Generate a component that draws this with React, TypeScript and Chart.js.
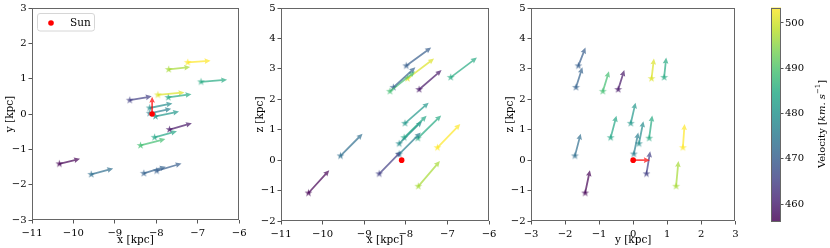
import React, { useEffect, useRef } from 'react';
import { Chart, registerables } from 'chart.js';
Chart.register(...registerables);

// ---------------- data ----------------
// star positions (kpc)
const STAR_X = [-7.24, -7.70, -6.92, -7.96, -7.71, -8.64, -8.16, -8.16, -8.02, -7.68, -8.04, -8.38, -10.34, -9.57, -8.30, -7.99];
const STAR_Y = [1.46, 1.26, 0.91, 0.54, 0.47, 0.39, 0.17, 0.02, -0.07, -0.44, -0.66, -0.89, -1.41, -1.71, -1.68, -1.61];
const STAR_Z = [0.41, -0.86, 2.72, 2.68, 0.72, -0.45, 0.54, 0.20, 1.21, 2.32, 0.74, 2.26, -1.08, 0.14, 2.39, 3.10];
// star velocity components (km/s)
const STAR_VX = [275, 260, 315, 320, 280, 265, 275, 260, 285, 270, 270, 300, 250, 265, 265, 300];
const STAR_VY = [25, 35, 30, 35, 45, 55, 65, 65, 70, 90, 85, 90, 70, 85, 95, 105];
const STAR_VZ = [390, 415, 325, 330, 375, 370, 370, 355, 340, 320, 360, 330, 375, 365, 330, 300];
// total velocity used for colour (km/s)
const STAR_SPEED = [503.4, 497, 485, 501, 485, 465, 479, 476, 481, 459, 484, 489, 456.3, 473, 471, 470];
// Sun
const SUN_X = -8.1;
const SUN_Y = 0;
const SUN_Z = 0;
const SUN_VX = 0;
const SUN_VY = 245;
const SUN_VZ = 0;
// arrow scale: kpc per km/s
const ARROW_SCALE = 1 / 500;

// ticks
const TICKS_X = [-11, -10, -9, -8, -7, -6];
const TICKS_Y_XY = [-3, -2, -1, 0, 1, 2, 3];
const TICKS_Z = [-2, -1, 0, 1, 2, 3, 4, 5];
const TICKS_Y_YZ = [-3, -2, -1, 0, 1, 2, 3];
const TICKS_CBAR = [460, 470, 480, 490, 500];

// ---------------- helpers ----------------
const FONT = "'DejaVu Serif', serif";
const VIRIDIS = ['#440154', '#482475', '#414487', '#355f8d', '#2a788e', '#21918c', '#22a884', '#44bf70', '#7ad151', '#bddf26', '#fde725'];
function hex(h: string) { return [parseInt(h.slice(1, 3), 16), parseInt(h.slice(3, 5), 16), parseInt(h.slice(5, 7), 16)]; }
function viridis(t: number): number[] {
  t = Math.max(0, Math.min(1, t));
  const p = t * (VIRIDIS.length - 1);
  const i = Math.min(VIRIDIS.length - 2, Math.floor(p));
  const f = p - i;
  const a = hex(VIRIDIS[i]), b = hex(VIRIDIS[i + 1]);
  return [0, 1, 2].map(k => Math.round(a[k] + (b[k] - a[k]) * f));
}
const SPEED_MIN = Math.min(...STAR_SPEED);
const SPEED_MAX = Math.max(...STAR_SPEED);
function speedColor(v: number, alpha: number) {
  const c = viridis((v - SPEED_MIN) / (SPEED_MAX - SPEED_MIN));
  return `rgba(${c[0]},${c[1]},${c[2]},${alpha})`;
}
const fmt = (v: number) => (v < 0 ? '\u2212' + Math.abs(v) : String(v));

const POS: Record<string, number[]> = { x: STAR_X, y: STAR_Y, z: STAR_Z };
const VEL: Record<string, number[]> = { x: STAR_VX, y: STAR_VY, z: STAR_VZ };
const SUN_P: Record<string, number> = { x: SUN_X, y: SUN_Y, z: SUN_Z };
const SUN_V: Record<string, number> = { x: SUN_VX, y: SUN_VY, z: SUN_VZ };

function starImage(color: string, R: number) {
  const size = Math.ceil(R * 2 + 2);
  const c = document.createElement('canvas');
  c.width = size; c.height = size;
  const g = c.getContext('2d')!;
  g.translate(size / 2, size / 2);
  g.beginPath();
  for (let k = 0; k < 10; k++) {
    const r = k % 2 === 0 ? R : R * 0.382;
    const a = -Math.PI / 2 + (k * Math.PI) / 5;
    g.lineTo(r * Math.cos(a), r * Math.sin(a));
  }
  g.closePath();
  g.fillStyle = color;
  g.fill();
  return c;
}

function drawArrow(ctx: CanvasRenderingContext2D, x0: number, y0: number, x1: number, y1: number, color: string) {
  const dx = x1 - x0, dy = y1 - y0;
  const L = Math.hypot(dx, dy);
  if (L < 1) return;
  const ux = dx / L, uy = dy / L;
  const nx = -uy, ny = ux;
  const w = 1.8, hw = 5.6, hl = 6.0, hal = 5.4;
  const pts = [
    [x0 + nx * w / 2, y0 + ny * w / 2],
    [x1 - ux * hal + nx * w / 2, y1 - uy * hal + ny * w / 2],
    [x1 - ux * hl + nx * hw / 2, y1 - uy * hl + ny * hw / 2],
    [x1, y1],
    [x1 - ux * hl - nx * hw / 2, y1 - uy * hl - ny * hw / 2],
    [x1 - ux * hal - nx * w / 2, y1 - uy * hal - ny * w / 2],
    [x0 - nx * w / 2, y0 - ny * w / 2],
  ];
  ctx.beginPath();
  pts.forEach((p, i) => (i ? ctx.lineTo(p[0], p[1]) : ctx.moveTo(p[0], p[1])));
  ctx.closePath();
  ctx.fillStyle = color;
  ctx.fill();
}

type Panel = {
  h: string; v: string;
  hMin: number; hMax: number; vMin: number; vMax: number;
  hTicks: number[]; vTicks: number[];
  hTitle: string; vTitle: string;
  left: number; width: number;
  area: { l: number; t: number; r: number; b: number };
  legend: boolean;
};

const H = 248;
const PANELS: Panel[] = [
  { h: 'x', v: 'y', hMin: -11, hMax: -6, vMin: -3, vMax: 3, hTicks: TICKS_X, vTicks: TICKS_Y_XY, hTitle: 'x [kpc]', vTitle: 'y [kpc]', left: 0, width: 250, area: { l: 32, t: 6, r: 240, b: 220 }, legend: true },
  { h: 'x', v: 'z', hMin: -11, hMax: -6, vMin: -2, vMax: 5, hTicks: TICKS_X, vTicks: TICKS_Z, hTitle: 'x [kpc]', vTitle: 'z [kpc]', left: 250, width: 250, area: { l: 31, t: 6, r: 239, b: 221 }, legend: false },
  { h: 'y', v: 'z', hMin: -3, hMax: 3, vMin: -2, vMax: 5, hTicks: TICKS_Y_YZ, vTicks: TICKS_Z, hTitle: 'y [kpc]', vTitle: 'z [kpc]', left: 500, width: 242, area: { l: 31, t: 6, r: 238, b: 221 }, legend: false },
];
const CBAR = { left: 742, width: 88, area: { l: 29, t: 6, r: 39, b: 221 } };

const tickFont = { family: FONT, size: 10 };
const titleFont = { family: FONT, size: 10.5 };

function framePlugin() {
  return {
    id: 'frame',
    afterDraw(chart: any) {
      const { left, top, right, bottom } = chart.chartArea;
      const ctx = chart.ctx;
      ctx.save();
      ctx.strokeStyle = '#666';
      ctx.lineWidth = 1;
      ctx.strokeRect(Math.round(left) + 0.5, Math.round(top) + 0.5, Math.round(right - left) - 1, Math.round(bottom - top) - 1);
      ctx.restore();
    },
  };
}

function quiverPlugin(p: Panel) {
  return {
    id: 'quiver',
    afterDatasetDraw(chart: any, args: any) {
      if (args.index !== 1) return;
      const xs = chart.scales.x, ys = chart.scales.y;
      const ctx: CanvasRenderingContext2D = chart.ctx;
      const a = chart.chartArea;
      ctx.save();
      ctx.beginPath();
      ctx.rect(a.left, a.top, a.right - a.left, a.bottom - a.top);
      ctx.clip();
      const hp = POS[p.h], vp = POS[p.v], hv = VEL[p.h], vv = VEL[p.v];
      for (let i = 0; i < hp.length; i++) {
        const x0 = xs.getPixelForValue(hp[i]);
        const y0 = ys.getPixelForValue(vp[i]);
        const x1 = xs.getPixelForValue(hp[i] + hv[i] * ARROW_SCALE);
        const y1 = ys.getPixelForValue(vp[i] + vv[i] * ARROW_SCALE);
        drawArrow(ctx, x0, y0, x1, y1, speedColor(STAR_SPEED[i], 0.7));
      }
      const sx0 = xs.getPixelForValue(SUN_P[p.h]);
      const sy0 = ys.getPixelForValue(SUN_P[p.v]);
      const sx1 = xs.getPixelForValue(SUN_P[p.h] + SUN_V[p.h] * ARROW_SCALE);
      const sy1 = ys.getPixelForValue(SUN_P[p.v] + SUN_V[p.v] * ARROW_SCALE);
      drawArrow(ctx, sx0, sy0, sx1, sy1, 'rgba(255,0,0,0.7)');
      ctx.restore();
    },
  };
}

function legendPlugin(p: Panel) {
  return {
    id: 'sunLegend',
    afterDraw(chart: any) {
      if (!p.legend) return;
      const a = chart.chartArea;
      const ctx: CanvasRenderingContext2D = chart.ctx;
      const ds = chart.data.datasets[0];
      const x = a.left + 5.5, y = a.top + 5.5, w = 57, h = 17.5, r = 2.5;
      ctx.save();
      ctx.beginPath();
      ctx.moveTo(x + r, y);
      ctx.arcTo(x + w, y, x + w, y + h, r);
      ctx.arcTo(x + w, y + h, x, y + h, r);
      ctx.arcTo(x, y + h, x, y, r);
      ctx.arcTo(x, y, x + w, y, r);
      ctx.closePath();
      ctx.fillStyle = 'rgba(255,255,255,0.8)';
      ctx.fill();
      ctx.strokeStyle = '#d6d6d6';
      ctx.lineWidth = 1;
      ctx.stroke();
      ctx.beginPath();
      ctx.arc(a.left + 19, a.top + 15, 2.8, 0, Math.PI * 2);
      ctx.fillStyle = ds.backgroundColor;
      ctx.fill();
      ctx.fillStyle = '#000';
      ctx.font = `10.5px ${FONT}`;
      ctx.textBaseline = 'middle';
      ctx.textAlign = 'left';
      ctx.fillText(ds.label, a.left + 38, a.top + 15);
      ctx.restore();
    },
  };
}

function makePanel(canvas: HTMLCanvasElement, p: Panel) {
  const starImgs = STAR_SPEED.map(v => starImage(speedColor(v, 0.75), 4.1));
  const starData = POS[p.h].map((hv, i) => ({ x: hv, y: POS[p.v][i] }));
  return new Chart(canvas, {
    type: 'scatter',
    data: {
      datasets: [
        { label: 'Sun', data: [{ x: SUN_P[p.h], y: SUN_P[p.v] }], backgroundColor: '#ff0000', borderWidth: 0, pointRadius: 2.8 },
        { label: 'stars', data: starData, pointStyle: ((ctx: any) => starImgs[ctx.dataIndex]) as any, pointRadius: 4 },
      ],
    },
    options: {
      responsive: false,
      animation: false,
      events: [],
      layout: { padding: { left: 0, top: p.area.t, right: p.width - p.area.r, bottom: 0 } },
      plugins: { legend: { display: false }, tooltip: { enabled: false } },
      scales: {
        x: {
          type: 'linear', position: 'bottom', min: p.hMin, max: p.hMax,
          afterBuildTicks: (s: any) => { s.ticks = p.hTicks.map(v => ({ value: v })); },
          afterFit: (s: any) => { s.height = H - p.area.b; },
          ticks: { font: tickFont, color: '#000', padding: 3.5, maxRotation: 0, autoSkip: false, callback: (v: any) => fmt(Number(v)) },
          grid: { drawOnChartArea: false, drawTicks: true, tickLength: 3.5, color: '#555' },
          border: { display: false },
          title: { display: true, text: p.hTitle, font: titleFont, color: '#000', padding: { top: 0, bottom: 1 } },
        },
        y: {
          type: 'linear', position: 'left', min: p.vMin, max: p.vMax,
          afterBuildTicks: (s: any) => { s.ticks = p.vTicks.map(v => ({ value: v })); },
          afterFit: (s: any) => { s.width = p.area.l; },
          ticks: { font: tickFont, color: '#000', padding: 2, autoSkip: false, callback: (v: any) => fmt(Number(v)) },
          grid: { drawOnChartArea: false, drawTicks: true, tickLength: 3.5, color: '#555' },
          border: { display: false },
          title: { display: true, text: p.vTitle, font: titleFont, color: '#000', padding: { top: 4, bottom: 0 } },
        },
      },
    } as any,
    plugins: [quiverPlugin(p), framePlugin(), legendPlugin(p)],
  });
}

function makeColorbar(canvas: HTMLCanvasElement) {
  const gradPlugin = {
    id: 'cbarGrad',
    beforeDatasetsDraw(chart: any) {
      const a = chart.chartArea;
      const ys = chart.scales.y;
      const ctx: CanvasRenderingContext2D = chart.ctx;
      const yb = ys.getPixelForValue(SPEED_MIN), yt = ys.getPixelForValue(SPEED_MAX);
      const g = ctx.createLinearGradient(0, yb, 0, yt);
      for (let k = 0; k <= 20; k++) {
        const t = k / 20;
        const c = viridis(t);
        g.addColorStop(t, `rgba(${c[0]},${c[1]},${c[2]},0.82)`);
      }
      ctx.save();
      ctx.fillStyle = g;
      ctx.fillRect(a.left, a.top, a.right - a.left, a.bottom - a.top);
      ctx.restore();
    },
  };
  const labelPlugin = {
    id: 'cbarLabel',
    afterDraw(chart: any) {
      const ctx: CanvasRenderingContext2D = chart.ctx;
      const parts = [
        { t: 'Velocity ', f: `10px ${FONT}`, dy: 0 },
        { t: '[', f: `10px ${FONT}`, dy: 0 },
        { t: 'km. s', f: `italic 10px ${FONT}`, dy: 0 },
        { t: '\u22121', f: `7px ${FONT}`, dy: -4 },
        { t: ']', f: `10px ${FONT}`, dy: 0 },
      ];
      ctx.save();
      let total = 0;
      const widths = parts.map(p => { ctx.font = p.f; const w = ctx.measureText(p.t).width; total += w; return w; });
      ctx.translate(80, 124);
      ctx.rotate(-Math.PI / 2);
      ctx.fillStyle = '#000';
      ctx.textBaseline = 'middle';
      ctx.textAlign = 'left';
      let x = -total / 2;
      parts.forEach((p, i) => { ctx.font = p.f; ctx.fillText(p.t, x, p.dy); x += widths[i]; });
      ctx.restore();
    },
  };
  return new Chart(canvas, {
    type: 'scatter',
    data: { datasets: [{ data: [] }] },
    options: {
      responsive: false,
      animation: false,
      events: [],
      layout: { padding: { left: CBAR.area.l, top: CBAR.area.t, right: 0, bottom: H - CBAR.area.b } },
      plugins: { legend: { display: false }, tooltip: { enabled: false } },
      scales: {
        x: { display: false, min: 0, max: 1 },
        y: {
          type: 'linear', position: 'right', min: SPEED_MIN, max: SPEED_MAX,
          afterBuildTicks: (s: any) => { s.ticks = TICKS_CBAR.map(v => ({ value: v })); },
          afterFit: (s: any) => { s.width = CBAR.width - CBAR.area.r; },
          ticks: { font: tickFont, color: '#000', padding: 1.5, autoSkip: false },
          grid: { drawOnChartArea: false, drawTicks: true, tickLength: 2.5, color: '#555' },
          border: { display: false },
        },
      },
    } as any,
    plugins: [gradPlugin, framePlugin(), labelPlugin],
  });
}

export default function App() {
  const refs = [useRef<HTMLCanvasElement>(null), useRef<HTMLCanvasElement>(null), useRef<HTMLCanvasElement>(null)];
  const cbRef = useRef<HTMLCanvasElement>(null);
  useEffect(() => {
    Chart.defaults.font.family = FONT;
    const charts = PANELS.map((p, i) => makePanel(refs[i].current!, p));
    charts.push(makeColorbar(cbRef.current!));
    return () => charts.forEach(c => c.destroy());
  }, []);
  return (
    <div style={{ position: 'fixed', left: 0, top: 0, width: 830, height: H, background: '#fff' }}>
      {PANELS.map((p, i) => (
        <canvas key={i} ref={refs[i]} width={p.width} height={H} style={{ position: 'absolute', left: p.left, top: 0, width: p.width, height: H }} />
      ))}
      <canvas ref={cbRef} width={CBAR.width} height={H} style={{ position: 'absolute', left: CBAR.left, top: 0, width: CBAR.width, height: H }} />
    </div>
  );
}
